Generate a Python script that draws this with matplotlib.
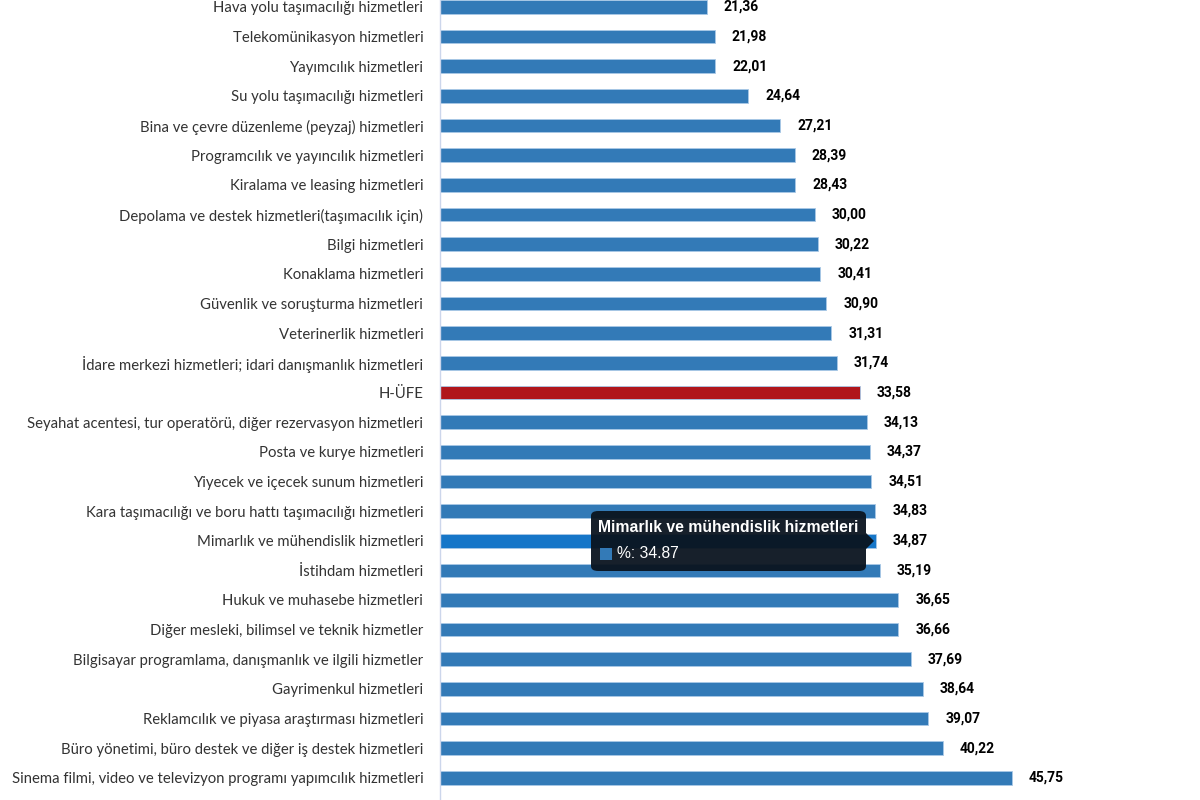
import matplotlib
matplotlib.use("Agg")
import matplotlib.pyplot as plt
from matplotlib.patches import FancyBboxPatch, Polygon, Rectangle

categories = [
    "Hava yolu taşımacılığı hizmetleri",
    "Telekomünikasyon hizmetleri",
    "Yayımcılık hizmetleri",
    "Su yolu taşımacılığı hizmetleri",
    "Bina ve çevre düzenleme (peyzaj) hizmetleri",
    "Programcılık ve yayıncılık hizmetleri",
    "Kiralama ve leasing hizmetleri",
    "Depolama ve destek hizmetleri(taşımacılık için)",
    "Bilgi hizmetleri",
    "Konaklama hizmetleri",
    "Güvenlik ve soruşturma hizmetleri",
    "Veterinerlik hizmetleri",
    "İdare merkezi hizmetleri; idari danışmanlık hizmetleri",
    "H-ÜFE",
    "Seyahat acentesi, tur operatörü, diğer rezervasyon hizmetleri",
    "Posta ve kurye hizmetleri",
    "Yiyecek ve içecek sunum hizmetleri",
    "Kara taşımacılığı ve boru hattı taşımacılığı hizmetleri",
    "Mimarlık ve mühendislik hizmetleri",
    "İstihdam hizmetleri",
    "Hukuk ve muhasebe hizmetleri",
    "Diğer mesleki, bilimsel ve teknik hizmetler",
    "Bilgisayar programlama, danışmanlık ve ilgili hizmetler",
    "Gayrimenkul hizmetleri",
    "Reklamcılık ve piyasa araştırması hizmetleri",
    "Büro yönetimi, büro destek ve diğer iş destek hizmetleri",
    "Sinema filmi, video ve televizyon programı yapımcılık hizmetleri",
]
values = [21.36, 21.98, 22.01, 24.64, 27.21, 28.39, 28.43, 30.00, 30.22, 30.41,
          30.90, 31.31, 31.74, 33.58, 34.13, 34.37, 34.51, 34.83, 34.87, 35.19,
          36.65, 36.66, 37.69, 38.64, 39.07, 40.22, 45.75]
highlight_total = "H-ÜFE"
hovered = "Mimarlık ve mühendislik hizmetleri"

base_color = "#337ab7"
total_color = "#b0151b"
hover_color = "#1676c8"

fig = plt.figure(figsize=(12, 8), dpi=100)
ax = fig.add_axes([440 / 1200, 0, (1190 - 440) / 1200, 1])

colors = []
for c in categories:
    if c == highlight_total:
        colors.append(total_color)
    elif c == hovered:
        colors.append(hover_color)
    else:
        colors.append(base_color)

ypos = list(range(len(categories)))
ax.barh(ypos, values, height=0.46, color=colors, edgecolor="#a9c8e6",
        linewidth=0.6, zorder=2)

top_i = -7 / 29.65
bot_i = (800 - 7) / 29.65
ax.set_ylim(bot_i, top_i)
ax.set_xlim(0, 60)

for s in ["top", "right", "bottom"]:
    ax.spines[s].set_visible(False)
ax.spines["left"].set_color("#ccd6eb")
ax.spines["left"].set_linewidth(1)
ax.set_xticks([])
ax.set_yticks(ypos)
ax.set_yticklabels(categories, fontsize=10.75, color="#333333", family=["Lato", "DejaVu Sans"])
ax.tick_params(axis="y", length=0, pad=12)

for i, v in enumerate(values):
    ax.annotate(f"{v:.2f}".replace(".", ","), xy=(v, i), xytext=(17, 0),
                textcoords="offset pixels", va="center", ha="left",
                fontsize=10, fontweight="bold", color="#000000",
                family=["Roboto", "DejaVu Sans"], zorder=3)

# tooltip
hi = categories.index(hovered)
hv = values[hi]
def px2fig(x, y):
    return x / 1200, 1 - y / 800

x0, y0 = px2fig(591, 571)
x1, y1 = px2fig(866, 511)
box = FancyBboxPatch((x0, y0), x1 - x0, y1 - y0,
                     boxstyle="round,pad=0,rounding_size=0.006",
                     transform=fig.transFigure, facecolor="#0a141f", alpha=0.95,
                     edgecolor="none", zorder=10)
fig.patches.append(box)
tri = Polygon([px2fig(866, 533), px2fig(874, 541), px2fig(866, 549)],
              closed=True, transform=fig.transFigure, facecolor="#0a141f",
              alpha=0.95, edgecolor="none", zorder=10)
fig.patches.append(tri)
tx, ty = px2fig(598, 527)
fig.text(tx, ty, hovered, color="white", fontsize=11.3, fontweight="bold",
         va="center", ha="left", family=["Liberation Sans", "DejaVu Sans"], zorder=11)
mx, my = px2fig(600, 560)
sq = Rectangle((mx, my), 12 / 1200, 12 / 800, transform=fig.transFigure,
               facecolor=base_color, edgecolor="none", zorder=11)
fig.patches.append(sq)
tx2, ty2 = px2fig(617, 554)
fig.text(tx2, ty2, f"%: {hv:.2f}", color="white", fontsize=11.3,
         va="center", ha="left", family=["Liberation Sans", "DejaVu Sans"], zorder=11)

fig.savefig("out.png", dpi=100)
